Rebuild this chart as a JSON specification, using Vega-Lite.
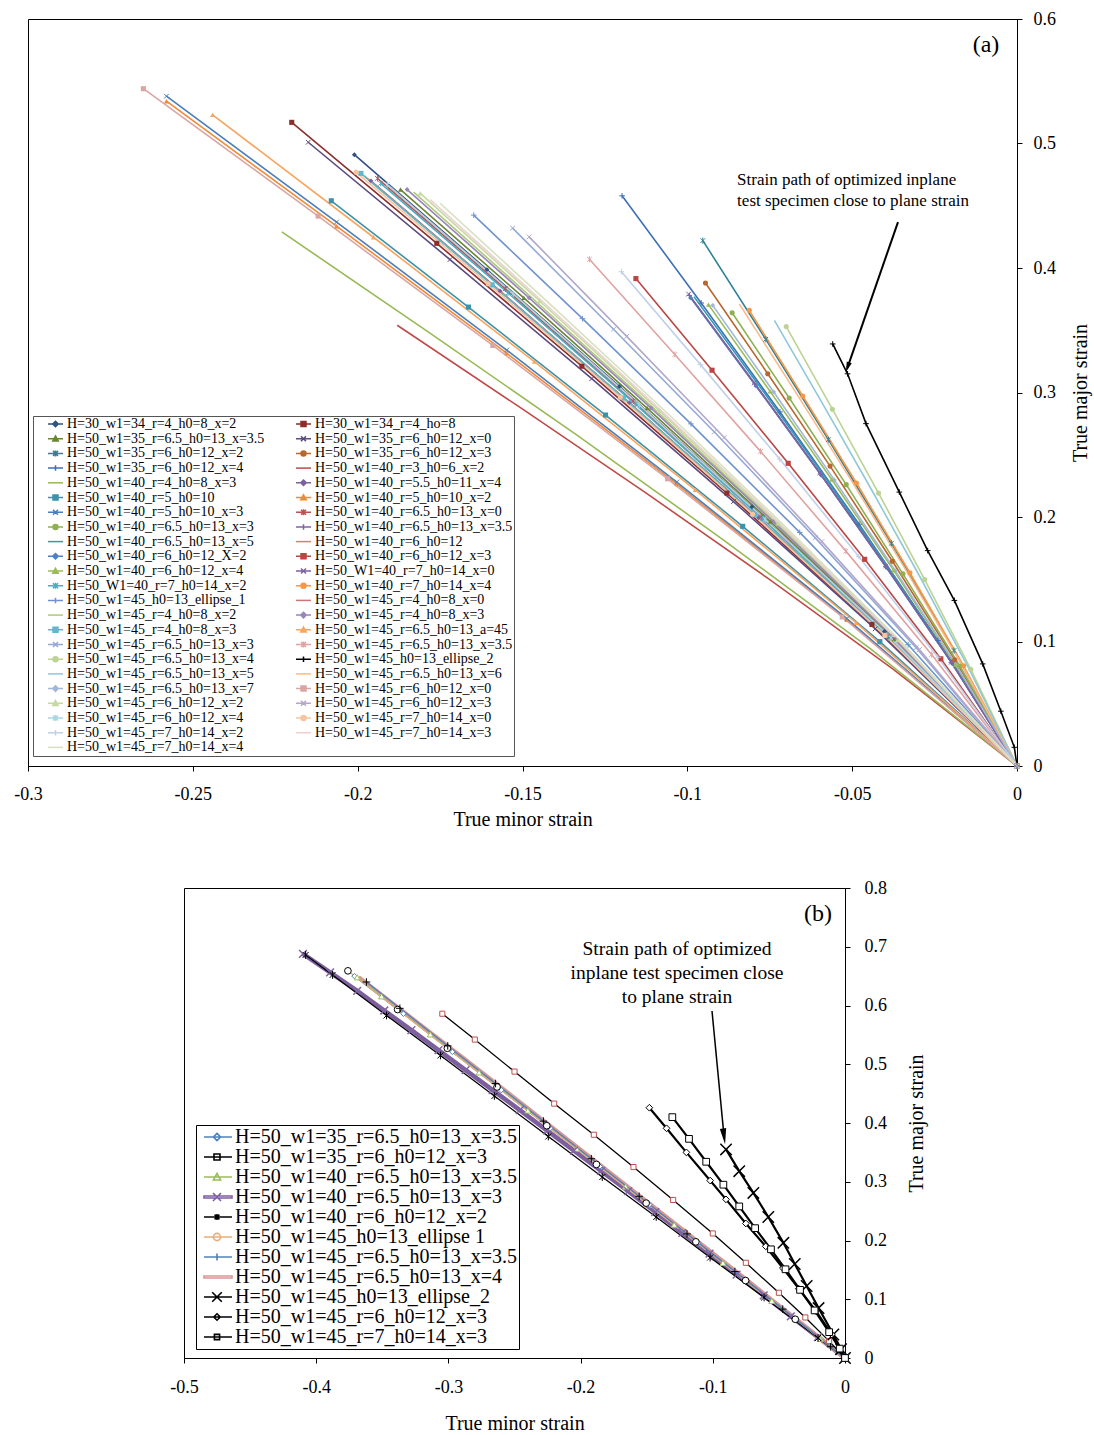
{
"$schema": "https://vega.github.io/schema/vega-lite/v6.json",
"padding": {"left": 13, "top": 9, "right": 2, "bottom": 0},
"spacing": 48,
"config": {
 "font": "Liberation Serif",
 "view": {"stroke": "#000", "strokeWidth": 1},
 "axis": {"grid": false, "domainColor": "#000", "tickColor": "#000", "labelColor": "#000", "titleColor": "#000", "labelFont": "Liberation Serif", "titleFont": "Liberation Serif", "titleFontWeight": "normal", "labelFontSize": 18, "titleFontSize": 20, "tickSize": 5, "labelFlush": false, "labelOverlap": false},
 "legend": {"labelFont": "Liberation Serif", "labelColor": "#000", "symbolLimit": 60},
 "text": {"font": "Liberation Serif", "color": "#000"}
},
"resolve": {"scale": {"x": "independent", "y": "independent", "color": "independent"}, "legend": {"color": "independent"}},
"datasets": {
"a": [
{"s":"H=30_w1=34_r=4_h0=8_x=2","x":-0.201,"y":0.491},{"s":"H=30_w1=34_r=4_h0=8_x=2","x":-0.1608,"y":0.3987},{"s":"H=30_w1=34_r=4_h0=8_x=2","x":-0.1206,"y":0.3049},{"s":"H=30_w1=34_r=4_h0=8_x=2","x":-0.0804,"y":0.2082},{"s":"H=30_w1=34_r=4_h0=8_x=2","x":-0.0402,"y":0.108},{"s":"H=30_w1=34_r=4_h0=8_x=2","x":0,"y":0},
{"s":"H=30_w1=34_r=4_ho=8","x":-0.22,"y":0.517},{"s":"H=30_w1=34_r=4_ho=8","x":-0.176,"y":0.4198},{"s":"H=30_w1=34_r=4_ho=8","x":-0.132,"y":0.3211},{"s":"H=30_w1=34_r=4_ho=8","x":-0.088,"y":0.2192},{"s":"H=30_w1=34_r=4_ho=8","x":-0.044,"y":0.1137},{"s":"H=30_w1=34_r=4_ho=8","x":0,"y":0},
{"s":"H=50_w1=35_r=6.5_h0=13_x=3.5","x":-0.187,"y":0.463},{"s":"H=50_w1=35_r=6.5_h0=13_x=3.5","x":-0.1496,"y":0.376},{"s":"H=50_w1=35_r=6.5_h0=13_x=3.5","x":-0.1122,"y":0.2875},{"s":"H=50_w1=35_r=6.5_h0=13_x=3.5","x":-0.0748,"y":0.1963},{"s":"H=50_w1=35_r=6.5_h0=13_x=3.5","x":-0.0374,"y":0.1019},{"s":"H=50_w1=35_r=6.5_h0=13_x=3.5","x":0,"y":0},
{"s":"H=50_w1=35_r=6_h0=12_x=0","x":-0.215,"y":0.501},{"s":"H=50_w1=35_r=6_h0=12_x=0","x":-0.172,"y":0.4068},{"s":"H=50_w1=35_r=6_h0=12_x=0","x":-0.129,"y":0.3111},{"s":"H=50_w1=35_r=6_h0=12_x=0","x":-0.086,"y":0.2124},{"s":"H=50_w1=35_r=6_h0=12_x=0","x":-0.043,"y":0.1102},{"s":"H=50_w1=35_r=6_h0=12_x=0","x":0,"y":0},
{"s":"H=50_w1=35_r=6_h0=12_x=2","x":-0.0953,"y":0.422},{"s":"H=50_w1=35_r=6_h0=12_x=2","x":-0.0762,"y":0.3427},{"s":"H=50_w1=35_r=6_h0=12_x=2","x":-0.0572,"y":0.2621},{"s":"H=50_w1=35_r=6_h0=12_x=2","x":-0.0381,"y":0.1789},{"s":"H=50_w1=35_r=6_h0=12_x=2","x":-0.0191,"y":0.0928},{"s":"H=50_w1=35_r=6_h0=12_x=2","x":0,"y":0},
{"s":"H=50_w1=35_r=6_h0=12_x=3","x":-0.0945,"y":0.388},{"s":"H=50_w1=35_r=6_h0=12_x=3","x":-0.0756,"y":0.3151},{"s":"H=50_w1=35_r=6_h0=12_x=3","x":-0.0567,"y":0.2409},{"s":"H=50_w1=35_r=6_h0=12_x=3","x":-0.0378,"y":0.1645},{"s":"H=50_w1=35_r=6_h0=12_x=3","x":-0.0189,"y":0.0854},{"s":"H=50_w1=35_r=6_h0=12_x=3","x":0,"y":0},
{"s":"H=50_w1=35_r=6_h0=12_x=4","x":-0.1198,"y":0.458},{"s":"H=50_w1=35_r=6_h0=12_x=4","x":-0.0958,"y":0.3719},{"s":"H=50_w1=35_r=6_h0=12_x=4","x":-0.0719,"y":0.2844},{"s":"H=50_w1=35_r=6_h0=12_x=4","x":-0.0479,"y":0.1942},{"s":"H=50_w1=35_r=6_h0=12_x=4","x":-0.024,"y":0.1008},{"s":"H=50_w1=35_r=6_h0=12_x=4","x":0,"y":0},
{"s":"H=50_w1=40_r=3_h0=6_x=2","x":-0.188,"y":0.354},{"s":"H=50_w1=40_r=3_h0=6_x=2","x":-0.1504,"y":0.2874},{"s":"H=50_w1=40_r=3_h0=6_x=2","x":-0.1128,"y":0.2198},{"s":"H=50_w1=40_r=3_h0=6_x=2","x":-0.0752,"y":0.1501},{"s":"H=50_w1=40_r=3_h0=6_x=2","x":-0.0376,"y":0.0779},{"s":"H=50_w1=40_r=3_h0=6_x=2","x":0,"y":0},
{"s":"H=50_w1=40_r=4_h0=8_x=3","x":-0.223,"y":0.429},{"s":"H=50_w1=40_r=4_h0=8_x=3","x":-0.1784,"y":0.3483},{"s":"H=50_w1=40_r=4_h0=8_x=3","x":-0.1338,"y":0.2664},{"s":"H=50_w1=40_r=4_h0=8_x=3","x":-0.0892,"y":0.1819},{"s":"H=50_w1=40_r=4_h0=8_x=3","x":-0.0446,"y":0.0944},{"s":"H=50_w1=40_r=4_h0=8_x=3","x":0,"y":0},
{"s":"H=50_w1=40_r=5.5_h0=11_x=4","x":-0.196,"y":0.47},{"s":"H=50_w1=40_r=5.5_h0=11_x=4","x":-0.1568,"y":0.3816},{"s":"H=50_w1=40_r=5.5_h0=11_x=4","x":-0.1176,"y":0.2919},{"s":"H=50_w1=40_r=5.5_h0=11_x=4","x":-0.0784,"y":0.1993},{"s":"H=50_w1=40_r=5.5_h0=11_x=4","x":-0.0392,"y":0.1034},{"s":"H=50_w1=40_r=5.5_h0=11_x=4","x":0,"y":0},
{"s":"H=50_w1=40_r=5_h0=10","x":-0.208,"y":0.454},{"s":"H=50_w1=40_r=5_h0=10","x":-0.1664,"y":0.3686},{"s":"H=50_w1=40_r=5_h0=10","x":-0.1248,"y":0.2819},{"s":"H=50_w1=40_r=5_h0=10","x":-0.0832,"y":0.1925},{"s":"H=50_w1=40_r=5_h0=10","x":-0.0416,"y":0.0999},{"s":"H=50_w1=40_r=5_h0=10","x":0,"y":0},
{"s":"H=50_w1=40_r=5_h0=10_x=2","x":-0.258,"y":0.534},{"s":"H=50_w1=40_r=5_h0=10_x=2","x":-0.2064,"y":0.4336},{"s":"H=50_w1=40_r=5_h0=10_x=2","x":-0.1548,"y":0.3316},{"s":"H=50_w1=40_r=5_h0=10_x=2","x":-0.1032,"y":0.2264},{"s":"H=50_w1=40_r=5_h0=10_x=2","x":-0.0516,"y":0.1175},{"s":"H=50_w1=40_r=5_h0=10_x=2","x":0,"y":0},
{"s":"H=50_w1=40_r=5_h0=10_x=3","x":-0.258,"y":0.538},{"s":"H=50_w1=40_r=5_h0=10_x=3","x":-0.2064,"y":0.4369},{"s":"H=50_w1=40_r=5_h0=10_x=3","x":-0.1548,"y":0.3341},{"s":"H=50_w1=40_r=5_h0=10_x=3","x":-0.1032,"y":0.2281},{"s":"H=50_w1=40_r=5_h0=10_x=3","x":-0.0516,"y":0.1184},{"s":"H=50_w1=40_r=5_h0=10_x=3","x":0,"y":0},
{"s":"H=50_w1=40_r=6.5_h0=13_x=0","x":-0.194,"y":0.472},{"s":"H=50_w1=40_r=6.5_h0=13_x=0","x":-0.1552,"y":0.3833},{"s":"H=50_w1=40_r=6.5_h0=13_x=0","x":-0.1164,"y":0.2931},{"s":"H=50_w1=40_r=6.5_h0=13_x=0","x":-0.0776,"y":0.2001},{"s":"H=50_w1=40_r=6.5_h0=13_x=0","x":-0.0388,"y":0.1038},{"s":"H=50_w1=40_r=6.5_h0=13_x=0","x":0,"y":0},
{"s":"H=50_w1=40_r=6.5_h0=13_x=3","x":-0.0864,"y":0.364},{"s":"H=50_w1=40_r=6.5_h0=13_x=3","x":-0.0691,"y":0.2956},{"s":"H=50_w1=40_r=6.5_h0=13_x=3","x":-0.0518,"y":0.226},{"s":"H=50_w1=40_r=6.5_h0=13_x=3","x":-0.0346,"y":0.1543},{"s":"H=50_w1=40_r=6.5_h0=13_x=3","x":-0.0173,"y":0.0801},{"s":"H=50_w1=40_r=6.5_h0=13_x=3","x":0,"y":0},
{"s":"H=50_w1=40_r=6.5_h0=13_x=3.5","x":-0.0994,"y":0.378},{"s":"H=50_w1=40_r=6.5_h0=13_x=3.5","x":-0.0795,"y":0.3069},{"s":"H=50_w1=40_r=6.5_h0=13_x=3.5","x":-0.0596,"y":0.2347},{"s":"H=50_w1=40_r=6.5_h0=13_x=3.5","x":-0.0398,"y":0.1603},{"s":"H=50_w1=40_r=6.5_h0=13_x=3.5","x":-0.0199,"y":0.0832},{"s":"H=50_w1=40_r=6.5_h0=13_x=3.5","x":0,"y":0},
{"s":"H=50_w1=40_r=6.5_h0=13_x=5","x":-0.098,"y":0.377},{"s":"H=50_w1=40_r=6.5_h0=13_x=5","x":-0.0784,"y":0.3061},{"s":"H=50_w1=40_r=6.5_h0=13_x=5","x":-0.0588,"y":0.2341},{"s":"H=50_w1=40_r=6.5_h0=13_x=5","x":-0.0392,"y":0.1598},{"s":"H=50_w1=40_r=6.5_h0=13_x=5","x":-0.0196,"y":0.0829},{"s":"H=50_w1=40_r=6.5_h0=13_x=5","x":0,"y":0},
{"s":"H=50_w1=40_r=6_h0=12","x":-0.198,"y":0.474},{"s":"H=50_w1=40_r=6_h0=12","x":-0.1584,"y":0.3849},{"s":"H=50_w1=40_r=6_h0=12","x":-0.1188,"y":0.2944},{"s":"H=50_w1=40_r=6_h0=12","x":-0.0792,"y":0.201},{"s":"H=50_w1=40_r=6_h0=12","x":-0.0396,"y":0.1043},{"s":"H=50_w1=40_r=6_h0=12","x":0,"y":0},
{"s":"H=50_w1=40_r=6_h0=12_X=2","x":-0.099,"y":0.376},{"s":"H=50_w1=40_r=6_h0=12_X=2","x":-0.0792,"y":0.3053},{"s":"H=50_w1=40_r=6_h0=12_X=2","x":-0.0594,"y":0.2335},{"s":"H=50_w1=40_r=6_h0=12_X=2","x":-0.0396,"y":0.1594},{"s":"H=50_w1=40_r=6_h0=12_X=2","x":-0.0198,"y":0.0827},{"s":"H=50_w1=40_r=6_h0=12_X=2","x":0,"y":0},
{"s":"H=50_w1=40_r=6_h0=12_x=3","x":-0.1156,"y":0.3915},{"s":"H=50_w1=40_r=6_h0=12_x=3","x":-0.0925,"y":0.3179},{"s":"H=50_w1=40_r=6_h0=12_x=3","x":-0.0694,"y":0.2431},{"s":"H=50_w1=40_r=6_h0=12_x=3","x":-0.0462,"y":0.166},{"s":"H=50_w1=40_r=6_h0=12_x=3","x":-0.0231,"y":0.0861},{"s":"H=50_w1=40_r=6_h0=12_x=3","x":0,"y":0},
{"s":"H=50_w1=40_r=6_h0=12_x=4","x":-0.0936,"y":0.3706},{"s":"H=50_w1=40_r=6_h0=12_x=4","x":-0.0749,"y":0.3009},{"s":"H=50_w1=40_r=6_h0=12_x=4","x":-0.0562,"y":0.2301},{"s":"H=50_w1=40_r=6_h0=12_x=4","x":-0.0374,"y":0.1571},{"s":"H=50_w1=40_r=6_h0=12_x=4","x":-0.0187,"y":0.0815},{"s":"H=50_w1=40_r=6_h0=12_x=4","x":0,"y":0},
{"s":"H=50_W1=40_r=7_h0=14_x=0","x":-0.0996,"y":0.379},{"s":"H=50_W1=40_r=7_h0=14_x=0","x":-0.0797,"y":0.3077},{"s":"H=50_W1=40_r=7_h0=14_x=0","x":-0.0598,"y":0.2354},{"s":"H=50_W1=40_r=7_h0=14_x=0","x":-0.0398,"y":0.1607},{"s":"H=50_W1=40_r=7_h0=14_x=0","x":-0.0199,"y":0.0834},{"s":"H=50_W1=40_r=7_h0=14_x=0","x":0,"y":0},
{"s":"H=50_W1=40_r=7_h0=14_x=2","x":-0.193,"y":0.468},{"s":"H=50_W1=40_r=7_h0=14_x=2","x":-0.1544,"y":0.38},{"s":"H=50_W1=40_r=7_h0=14_x=2","x":-0.1158,"y":0.2906},{"s":"H=50_W1=40_r=7_h0=14_x=2","x":-0.0772,"y":0.1984},{"s":"H=50_W1=40_r=7_h0=14_x=2","x":-0.0386,"y":0.103},{"s":"H=50_W1=40_r=7_h0=14_x=2","x":0,"y":0},
{"s":"H=50_w1=40_r=7_h0=14_x=4","x":-0.0812,"y":0.366},{"s":"H=50_w1=40_r=7_h0=14_x=4","x":-0.065,"y":0.2972},{"s":"H=50_w1=40_r=7_h0=14_x=4","x":-0.0487,"y":0.2273},{"s":"H=50_w1=40_r=7_h0=14_x=4","x":-0.0325,"y":0.1552},{"s":"H=50_w1=40_r=7_h0=14_x=4","x":-0.0162,"y":0.0805},{"s":"H=50_w1=40_r=7_h0=14_x=4","x":0,"y":0},
{"s":"H=50_w1=45_h0=13_ellipse_1","x":-0.1648,"y":0.4425},{"s":"H=50_w1=45_h0=13_ellipse_1","x":-0.1318,"y":0.3593},{"s":"H=50_w1=45_h0=13_ellipse_1","x":-0.0989,"y":0.2748},{"s":"H=50_w1=45_h0=13_ellipse_1","x":-0.0659,"y":0.1876},{"s":"H=50_w1=45_h0=13_ellipse_1","x":-0.033,"y":0.0974},{"s":"H=50_w1=45_h0=13_ellipse_1","x":0,"y":0},
{"s":"H=50_w1=45_r=4_h0=8_x=0","x":-0.19,"y":0.465},{"s":"H=50_w1=45_r=4_h0=8_x=0","x":-0.152,"y":0.3776},{"s":"H=50_w1=45_r=4_h0=8_x=0","x":-0.114,"y":0.2888},{"s":"H=50_w1=45_r=4_h0=8_x=0","x":-0.076,"y":0.1972},{"s":"H=50_w1=45_r=4_h0=8_x=0","x":-0.038,"y":0.1023},{"s":"H=50_w1=45_r=4_h0=8_x=0","x":0,"y":0},
{"s":"H=50_w1=45_r=4_h0=8_x=2","x":-0.183,"y":0.461},{"s":"H=50_w1=45_r=4_h0=8_x=2","x":-0.1464,"y":0.3743},{"s":"H=50_w1=45_r=4_h0=8_x=2","x":-0.1098,"y":0.2863},{"s":"H=50_w1=45_r=4_h0=8_x=2","x":-0.0732,"y":0.1955},{"s":"H=50_w1=45_r=4_h0=8_x=2","x":-0.0366,"y":0.1014},{"s":"H=50_w1=45_r=4_h0=8_x=2","x":0,"y":0},
{"s":"H=50_w1=45_r=4_h0=8_x=3","x":-0.185,"y":0.463},{"s":"H=50_w1=45_r=4_h0=8_x=3","x":-0.148,"y":0.376},{"s":"H=50_w1=45_r=4_h0=8_x=3","x":-0.111,"y":0.2875},{"s":"H=50_w1=45_r=4_h0=8_x=3","x":-0.074,"y":0.1963},{"s":"H=50_w1=45_r=4_h0=8_x=3","x":-0.037,"y":0.1019},{"s":"H=50_w1=45_r=4_h0=8_x=3","x":0,"y":0},
{"s":"H=50_w1=45_r=4_h0=8_x=3 ","x":-0.199,"y":0.476},{"s":"H=50_w1=45_r=4_h0=8_x=3 ","x":-0.1592,"y":0.3865},{"s":"H=50_w1=45_r=4_h0=8_x=3 ","x":-0.1194,"y":0.2956},{"s":"H=50_w1=45_r=4_h0=8_x=3 ","x":-0.0796,"y":0.2018},{"s":"H=50_w1=45_r=4_h0=8_x=3 ","x":-0.0398,"y":0.1047},{"s":"H=50_w1=45_r=4_h0=8_x=3 ","x":0,"y":0},
{"s":"H=50_w1=45_r=6.5_h0=13_a=45","x":-0.244,"y":0.523},{"s":"H=50_w1=45_r=6.5_h0=13_a=45","x":-0.1952,"y":0.4247},{"s":"H=50_w1=45_r=6.5_h0=13_a=45","x":-0.1464,"y":0.3248},{"s":"H=50_w1=45_r=6.5_h0=13_a=45","x":-0.0976,"y":0.2218},{"s":"H=50_w1=45_r=6.5_h0=13_a=45","x":-0.0488,"y":0.1151},{"s":"H=50_w1=45_r=6.5_h0=13_a=45","x":0,"y":0},
{"s":"H=50_w1=45_r=6.5_h0=13_x=3","x":-0.153,"y":0.432},{"s":"H=50_w1=45_r=6.5_h0=13_x=3","x":-0.1224,"y":0.3508},{"s":"H=50_w1=45_r=6.5_h0=13_x=3","x":-0.0918,"y":0.2683},{"s":"H=50_w1=45_r=6.5_h0=13_x=3","x":-0.0612,"y":0.1832},{"s":"H=50_w1=45_r=6.5_h0=13_x=3","x":-0.0306,"y":0.095},{"s":"H=50_w1=45_r=6.5_h0=13_x=3","x":0,"y":0},
{"s":"H=50_w1=45_r=6.5_h0=13_x=3.5","x":-0.1297,"y":0.407},{"s":"H=50_w1=45_r=6.5_h0=13_x=3.5","x":-0.1038,"y":0.3305},{"s":"H=50_w1=45_r=6.5_h0=13_x=3.5","x":-0.0778,"y":0.2527},{"s":"H=50_w1=45_r=6.5_h0=13_x=3.5","x":-0.0519,"y":0.1726},{"s":"H=50_w1=45_r=6.5_h0=13_x=3.5","x":-0.0259,"y":0.0895},{"s":"H=50_w1=45_r=6.5_h0=13_x=3.5","x":0,"y":0},
{"s":"H=50_w1=45_r=6.5_h0=13_x=4","x":-0.07,"y":0.353},{"s":"H=50_w1=45_r=6.5_h0=13_x=4","x":-0.056,"y":0.2866},{"s":"H=50_w1=45_r=6.5_h0=13_x=4","x":-0.042,"y":0.2192},{"s":"H=50_w1=45_r=6.5_h0=13_x=4","x":-0.028,"y":0.1497},{"s":"H=50_w1=45_r=6.5_h0=13_x=4","x":-0.014,"y":0.0777},{"s":"H=50_w1=45_r=6.5_h0=13_x=4","x":0,"y":0},
{"s":"H=50_w1=45_h0=13_ellipse_2","x":-0.0559,"y":0.339},{"s":"H=50_w1=45_h0=13_ellipse_2","x":-0.0514,"y":0.315},{"s":"H=50_w1=45_h0=13_ellipse_2","x":-0.0458,"y":0.275},{"s":"H=50_w1=45_h0=13_ellipse_2","x":-0.0357,"y":0.22},{"s":"H=50_w1=45_h0=13_ellipse_2","x":-0.0271,"y":0.173},{"s":"H=50_w1=45_h0=13_ellipse_2","x":-0.019,"y":0.133},{"s":"H=50_w1=45_h0=13_ellipse_2","x":-0.0104,"y":0.082},{"s":"H=50_w1=45_h0=13_ellipse_2","x":-0.0049,"y":0.044},{"s":"H=50_w1=45_h0=13_ellipse_2","x":-0.0008,"y":0.015},{"s":"H=50_w1=45_h0=13_ellipse_2","x":0,"y":0},
{"s":"H=50_w1=45_r=6.5_h0=13_x=5","x":-0.0736,"y":0.358},{"s":"H=50_w1=45_r=6.5_h0=13_x=5","x":-0.0589,"y":0.2907},{"s":"H=50_w1=45_r=6.5_h0=13_x=5","x":-0.0442,"y":0.2223},{"s":"H=50_w1=45_r=6.5_h0=13_x=5","x":-0.0294,"y":0.1518},{"s":"H=50_w1=45_r=6.5_h0=13_x=5","x":-0.0147,"y":0.0788},{"s":"H=50_w1=45_r=6.5_h0=13_x=5","x":0,"y":0},
{"s":"H=50_w1=45_r=6.5_h0=13_x=6","x":-0.0842,"y":0.371},{"s":"H=50_w1=45_r=6.5_h0=13_x=6","x":-0.0674,"y":0.3013},{"s":"H=50_w1=45_r=6.5_h0=13_x=6","x":-0.0505,"y":0.2304},{"s":"H=50_w1=45_r=6.5_h0=13_x=6","x":-0.0337,"y":0.1573},{"s":"H=50_w1=45_r=6.5_h0=13_x=6","x":-0.0168,"y":0.0816},{"s":"H=50_w1=45_r=6.5_h0=13_x=6","x":0,"y":0},
{"s":"H=50_w1=45_r=6.5_h0=13_x=7","x":-0.0923,"y":0.37},{"s":"H=50_w1=45_r=6.5_h0=13_x=7","x":-0.0738,"y":0.3004},{"s":"H=50_w1=45_r=6.5_h0=13_x=7","x":-0.0554,"y":0.2298},{"s":"H=50_w1=45_r=6.5_h0=13_x=7","x":-0.0369,"y":0.1569},{"s":"H=50_w1=45_r=6.5_h0=13_x=7","x":-0.0185,"y":0.0814},{"s":"H=50_w1=45_r=6.5_h0=13_x=7","x":0,"y":0},
{"s":"H=50_w1=45_r=6_h0=12_x=0","x":-0.265,"y":0.544},{"s":"H=50_w1=45_r=6_h0=12_x=0","x":-0.212,"y":0.4417},{"s":"H=50_w1=45_r=6_h0=12_x=0","x":-0.159,"y":0.3378},{"s":"H=50_w1=45_r=6_h0=12_x=0","x":-0.106,"y":0.2307},{"s":"H=50_w1=45_r=6_h0=12_x=0","x":-0.053,"y":0.1197},{"s":"H=50_w1=45_r=6_h0=12_x=0","x":0,"y":0},
{"s":"H=50_w1=45_r=6_h0=12_x=2","x":-0.181,"y":0.46},{"s":"H=50_w1=45_r=6_h0=12_x=2","x":-0.1448,"y":0.3735},{"s":"H=50_w1=45_r=6_h0=12_x=2","x":-0.1086,"y":0.2857},{"s":"H=50_w1=45_r=6_h0=12_x=2","x":-0.0724,"y":0.195},{"s":"H=50_w1=45_r=6_h0=12_x=2","x":-0.0362,"y":0.1012},{"s":"H=50_w1=45_r=6_h0=12_x=2","x":0,"y":0},
{"s":"H=50_w1=45_r=6_h0=12_x=3","x":-0.148,"y":0.425},{"s":"H=50_w1=45_r=6_h0=12_x=3","x":-0.1184,"y":0.3451},{"s":"H=50_w1=45_r=6_h0=12_x=3","x":-0.0888,"y":0.2639},{"s":"H=50_w1=45_r=6_h0=12_x=3","x":-0.0592,"y":0.1802},{"s":"H=50_w1=45_r=6_h0=12_x=3","x":-0.0296,"y":0.0935},{"s":"H=50_w1=45_r=6_h0=12_x=3","x":0,"y":0},
{"s":"H=50_w1=45_r=6_h0=12_x=4","x":-0.191,"y":0.467},{"s":"H=50_w1=45_r=6_h0=12_x=4","x":-0.1528,"y":0.3792},{"s":"H=50_w1=45_r=6_h0=12_x=4","x":-0.1146,"y":0.29},{"s":"H=50_w1=45_r=6_h0=12_x=4","x":-0.0764,"y":0.198},{"s":"H=50_w1=45_r=6_h0=12_x=4","x":-0.0382,"y":0.1027},{"s":"H=50_w1=45_r=6_h0=12_x=4","x":0,"y":0},
{"s":"H=50_w1=45_r=7_h0=14_x=0","x":-0.2005,"y":0.477},{"s":"H=50_w1=45_r=7_h0=14_x=0","x":-0.1604,"y":0.3873},{"s":"H=50_w1=45_r=7_h0=14_x=0","x":-0.1203,"y":0.2962},{"s":"H=50_w1=45_r=7_h0=14_x=0","x":-0.0802,"y":0.2022},{"s":"H=50_w1=45_r=7_h0=14_x=0","x":-0.0401,"y":0.1049},{"s":"H=50_w1=45_r=7_h0=14_x=0","x":0,"y":0},
{"s":"H=50_w1=45_r=7_h0=14_x=2","x":-0.12,"y":0.397},{"s":"H=50_w1=45_r=7_h0=14_x=2","x":-0.096,"y":0.3224},{"s":"H=50_w1=45_r=7_h0=14_x=2","x":-0.072,"y":0.2465},{"s":"H=50_w1=45_r=7_h0=14_x=2","x":-0.048,"y":0.1683},{"s":"H=50_w1=45_r=7_h0=14_x=2","x":-0.024,"y":0.0873},{"s":"H=50_w1=45_r=7_h0=14_x=2","x":0,"y":0},
{"s":"H=50_w1=45_r=7_h0=14_x=3","x":-0.178,"y":0.455},{"s":"H=50_w1=45_r=7_h0=14_x=3","x":-0.1424,"y":0.3695},{"s":"H=50_w1=45_r=7_h0=14_x=3","x":-0.1068,"y":0.2826},{"s":"H=50_w1=45_r=7_h0=14_x=3","x":-0.0712,"y":0.1929},{"s":"H=50_w1=45_r=7_h0=14_x=3","x":-0.0356,"y":0.1001},{"s":"H=50_w1=45_r=7_h0=14_x=3","x":0,"y":0},
{"s":"H=50_w1=45_r=7_h0=14_x=4","x":-0.175,"y":0.452},{"s":"H=50_w1=45_r=7_h0=14_x=4","x":-0.14,"y":0.367},{"s":"H=50_w1=45_r=7_h0=14_x=4","x":-0.105,"y":0.2807},{"s":"H=50_w1=45_r=7_h0=14_x=4","x":-0.07,"y":0.1916},{"s":"H=50_w1=45_r=7_h0=14_x=4","x":-0.035,"y":0.0994},{"s":"H=50_w1=45_r=7_h0=14_x=4","x":0,"y":0}
],
"b": [
{"s":"H=50_w1=35_r=6.5_h0=13_x=3.5","x":-0.371,"y":0.65},{"s":"H=50_w1=35_r=6.5_h0=13_x=3.5","x":-0.334,"y":0.586},{"s":"H=50_w1=35_r=6.5_h0=13_x=3.5","x":-0.297,"y":0.521},{"s":"H=50_w1=35_r=6.5_h0=13_x=3.5","x":-0.26,"y":0.456},{"s":"H=50_w1=35_r=6.5_h0=13_x=3.5","x":-0.223,"y":0.391},{"s":"H=50_w1=35_r=6.5_h0=13_x=3.5","x":-0.1855,"y":0.326},{"s":"H=50_w1=35_r=6.5_h0=13_x=3.5","x":-0.148,"y":0.261},{"s":"H=50_w1=35_r=6.5_h0=13_x=3.5","x":-0.111,"y":0.196},{"s":"H=50_w1=35_r=6.5_h0=13_x=3.5","x":-0.074,"y":0.131},{"s":"H=50_w1=35_r=6.5_h0=13_x=3.5","x":-0.037,"y":0.066},{"s":"H=50_w1=35_r=6.5_h0=13_x=3.5","x":0,"y":0},
{"s":"H=50_w1=35_r=6_h0=12_x=3","x":-0.3046,"y":0.586},{"s":"H=50_w1=35_r=6_h0=12_x=3","x":-0.28,"y":0.542},{"s":"H=50_w1=35_r=6_h0=12_x=3","x":-0.25,"y":0.4875},{"s":"H=50_w1=35_r=6_h0=12_x=3","x":-0.22,"y":0.433},{"s":"H=50_w1=35_r=6_h0=12_x=3","x":-0.19,"y":0.38},{"s":"H=50_w1=35_r=6_h0=12_x=3","x":-0.16,"y":0.325},{"s":"H=50_w1=35_r=6_h0=12_x=3","x":-0.13,"y":0.269},{"s":"H=50_w1=35_r=6_h0=12_x=3","x":-0.1,"y":0.212},{"s":"H=50_w1=35_r=6_h0=12_x=3","x":-0.075,"y":0.162},{"s":"H=50_w1=35_r=6_h0=12_x=3","x":-0.05,"y":0.111},{"s":"H=50_w1=35_r=6_h0=12_x=3","x":-0.03,"y":0.069},{"s":"H=50_w1=35_r=6_h0=12_x=3","x":-0.012,"y":0.0288},{"s":"H=50_w1=35_r=6_h0=12_x=3","x":0,"y":0},
{"s":"H=50_w1=40_r=6.5_h0=13_x=3.5","x":-0.369,"y":0.648},{"s":"H=50_w1=40_r=6.5_h0=13_x=3.5","x":-0.3506,"y":0.6156},{"s":"H=50_w1=40_r=6.5_h0=13_x=3.5","x":-0.3137,"y":0.5508},{"s":"H=50_w1=40_r=6.5_h0=13_x=3.5","x":-0.2768,"y":0.486},{"s":"H=50_w1=40_r=6.5_h0=13_x=3.5","x":-0.2399,"y":0.4212},{"s":"H=50_w1=40_r=6.5_h0=13_x=3.5","x":-0.203,"y":0.3564},{"s":"H=50_w1=40_r=6.5_h0=13_x=3.5","x":-0.166,"y":0.2916},{"s":"H=50_w1=40_r=6.5_h0=13_x=3.5","x":-0.1292,"y":0.2268},{"s":"H=50_w1=40_r=6.5_h0=13_x=3.5","x":-0.0923,"y":0.162},{"s":"H=50_w1=40_r=6.5_h0=13_x=3.5","x":-0.0554,"y":0.0972},{"s":"H=50_w1=40_r=6.5_h0=13_x=3.5","x":-0.0185,"y":0.0324},{"s":"H=50_w1=40_r=6.5_h0=13_x=3.5","x":0,"y":0},
{"s":"H=50_w1=40_r=6.5_h0=13_x=3","x":-0.41,"y":0.688},{"s":"H=50_w1=40_r=6.5_h0=13_x=3","x":-0.3895,"y":0.6565},{"s":"H=50_w1=40_r=6.5_h0=13_x=3","x":-0.369,"y":0.625},{"s":"H=50_w1=40_r=6.5_h0=13_x=3","x":-0.3485,"y":0.5915},{"s":"H=50_w1=40_r=6.5_h0=13_x=3","x":-0.328,"y":0.558},{"s":"H=50_w1=40_r=6.5_h0=13_x=3","x":-0.3075,"y":0.524},{"s":"H=50_w1=40_r=6.5_h0=13_x=3","x":-0.287,"y":0.49},{"s":"H=50_w1=40_r=6.5_h0=13_x=3","x":-0.2665,"y":0.456},{"s":"H=50_w1=40_r=6.5_h0=13_x=3","x":-0.246,"y":0.422},{"s":"H=50_w1=40_r=6.5_h0=13_x=3","x":-0.2255,"y":0.3875},{"s":"H=50_w1=40_r=6.5_h0=13_x=3","x":-0.205,"y":0.353},{"s":"H=50_w1=40_r=6.5_h0=13_x=3","x":-0.1845,"y":0.3185},{"s":"H=50_w1=40_r=6.5_h0=13_x=3","x":-0.164,"y":0.284},{"s":"H=50_w1=40_r=6.5_h0=13_x=3","x":-0.1435,"y":0.2485},{"s":"H=50_w1=40_r=6.5_h0=13_x=3","x":-0.123,"y":0.213},{"s":"H=50_w1=40_r=6.5_h0=13_x=3","x":-0.1025,"y":0.1775},{"s":"H=50_w1=40_r=6.5_h0=13_x=3","x":-0.082,"y":0.142},{"s":"H=50_w1=40_r=6.5_h0=13_x=3","x":-0.0615,"y":0.1065},{"s":"H=50_w1=40_r=6.5_h0=13_x=3","x":-0.041,"y":0.071},{"s":"H=50_w1=40_r=6.5_h0=13_x=3","x":-0.0205,"y":0.0355},{"s":"H=50_w1=40_r=6.5_h0=13_x=3","x":0,"y":0},
{"s":"H=50_w1=40_r=6_h0=12_x=2","x":-0.408,"y":0.686},{"s":"H=50_w1=40_r=6_h0=12_x=2","x":-0.3876,"y":0.652},{"s":"H=50_w1=40_r=6_h0=12_x=2","x":-0.3468,"y":0.583},{"s":"H=50_w1=40_r=6_h0=12_x=2","x":-0.306,"y":0.515},{"s":"H=50_w1=40_r=6_h0=12_x=2","x":-0.2652,"y":0.446},{"s":"H=50_w1=40_r=6_h0=12_x=2","x":-0.2244,"y":0.377},{"s":"H=50_w1=40_r=6_h0=12_x=2","x":-0.1836,"y":0.308},{"s":"H=50_w1=40_r=6_h0=12_x=2","x":-0.1428,"y":0.24},{"s":"H=50_w1=40_r=6_h0=12_x=2","x":-0.102,"y":0.171},{"s":"H=50_w1=40_r=6_h0=12_x=2","x":-0.0612,"y":0.103},{"s":"H=50_w1=40_r=6_h0=12_x=2","x":-0.0204,"y":0.034},{"s":"H=50_w1=40_r=6_h0=12_x=2","x":0,"y":0},
{"s":"H=50_w1=45_h0=13_ellipse 1","x":-0.376,"y":0.659},{"s":"H=50_w1=45_h0=13_ellipse 1","x":-0.3384,"y":0.5931},{"s":"H=50_w1=45_h0=13_ellipse 1","x":-0.3008,"y":0.5272},{"s":"H=50_w1=45_h0=13_ellipse 1","x":-0.2632,"y":0.4613},{"s":"H=50_w1=45_h0=13_ellipse 1","x":-0.2256,"y":0.3954},{"s":"H=50_w1=45_h0=13_ellipse 1","x":-0.188,"y":0.3295},{"s":"H=50_w1=45_h0=13_ellipse 1","x":-0.1504,"y":0.2636},{"s":"H=50_w1=45_h0=13_ellipse 1","x":-0.1128,"y":0.1977},{"s":"H=50_w1=45_h0=13_ellipse 1","x":-0.0752,"y":0.1318},{"s":"H=50_w1=45_h0=13_ellipse 1","x":-0.0376,"y":0.0659},{"s":"H=50_w1=45_h0=13_ellipse 1","x":0,"y":0},
{"s":"H=50_w1=45_r=6.5_h0=13_x=3.5","x":-0.362,"y":0.64},{"s":"H=50_w1=45_r=6.5_h0=13_x=3.5","x":-0.3367,"y":0.5952},{"s":"H=50_w1=45_r=6.5_h0=13_x=3.5","x":-0.3005,"y":0.5312},{"s":"H=50_w1=45_r=6.5_h0=13_x=3.5","x":-0.2643,"y":0.4672},{"s":"H=50_w1=45_r=6.5_h0=13_x=3.5","x":-0.2281,"y":0.4032},{"s":"H=50_w1=45_r=6.5_h0=13_x=3.5","x":-0.1919,"y":0.3392},{"s":"H=50_w1=45_r=6.5_h0=13_x=3.5","x":-0.1557,"y":0.2752},{"s":"H=50_w1=45_r=6.5_h0=13_x=3.5","x":-0.1195,"y":0.2112},{"s":"H=50_w1=45_r=6.5_h0=13_x=3.5","x":-0.0833,"y":0.1472},{"s":"H=50_w1=45_r=6.5_h0=13_x=3.5","x":-0.0471,"y":0.0832},{"s":"H=50_w1=45_r=6.5_h0=13_x=3.5","x":-0.0109,"y":0.0192},{"s":"H=50_w1=45_r=6.5_h0=13_x=3.5","x":0,"y":0},
{"s":"H=50_w1=45_r=6.5_h0=13_x=4","x":-0.368,"y":0.648},{"s":"H=50_w1=45_r=6.5_h0=13_x=4","x":-0.276,"y":0.488},{"s":"H=50_w1=45_r=6.5_h0=13_x=4","x":-0.184,"y":0.326},{"s":"H=50_w1=45_r=6.5_h0=13_x=4","x":-0.092,"y":0.164},{"s":"H=50_w1=45_r=6.5_h0=13_x=4","x":0,"y":0},
{"s":"H=50_w1=45_h0=13_ellipse_2","x":-0.09,"y":0.355},{"s":"H=50_w1=45_h0=13_ellipse_2","x":-0.08,"y":0.318},{"s":"H=50_w1=45_h0=13_ellipse_2","x":-0.0693,"y":0.281},{"s":"H=50_w1=45_h0=13_ellipse_2","x":-0.058,"y":0.24},{"s":"H=50_w1=45_h0=13_ellipse_2","x":-0.0466,"y":0.196},{"s":"H=50_w1=45_h0=13_ellipse_2","x":-0.038,"y":0.16},{"s":"H=50_w1=45_h0=13_ellipse_2","x":-0.029,"y":0.1226},{"s":"H=50_w1=45_h0=13_ellipse_2","x":-0.02,"y":0.085},{"s":"H=50_w1=45_h0=13_ellipse_2","x":-0.0088,"y":0.04},{"s":"H=50_w1=45_h0=13_ellipse_2","x":-0.003,"y":0.015},{"s":"H=50_w1=45_h0=13_ellipse_2","x":0,"y":0},
{"s":"H=50_w1=45_r=6_h0=12_x=3","x":-0.148,"y":0.426},{"s":"H=50_w1=45_r=6_h0=12_x=3","x":-0.135,"y":0.391},{"s":"H=50_w1=45_r=6_h0=12_x=3","x":-0.12,"y":0.35},{"s":"H=50_w1=45_r=6_h0=12_x=3","x":-0.102,"y":0.302},{"s":"H=50_w1=45_r=6_h0=12_x=3","x":-0.09,"y":0.27},{"s":"H=50_w1=45_r=6_h0=12_x=3","x":-0.075,"y":0.229},{"s":"H=50_w1=45_r=6_h0=12_x=3","x":-0.06,"y":0.19},{"s":"H=50_w1=45_r=6_h0=12_x=3","x":-0.047,"y":0.153},{"s":"H=50_w1=45_r=6_h0=12_x=3","x":-0.035,"y":0.118},{"s":"H=50_w1=45_r=6_h0=12_x=3","x":-0.022,"y":0.08},{"s":"H=50_w1=45_r=6_h0=12_x=3","x":-0.01,"y":0.04},{"s":"H=50_w1=45_r=6_h0=12_x=3","x":0,"y":0},
{"s":"H=50_w1=45_r=7_h0=14_x=3","x":-0.1306,"y":0.41},{"s":"H=50_w1=45_r=7_h0=14_x=3","x":-0.118,"y":0.373},{"s":"H=50_w1=45_r=7_h0=14_x=3","x":-0.105,"y":0.334},{"s":"H=50_w1=45_r=7_h0=14_x=3","x":-0.092,"y":0.295},{"s":"H=50_w1=45_r=7_h0=14_x=3","x":-0.08,"y":0.258},{"s":"H=50_w1=45_r=7_h0=14_x=3","x":-0.068,"y":0.221},{"s":"H=50_w1=45_r=7_h0=14_x=3","x":-0.056,"y":0.185},{"s":"H=50_w1=45_r=7_h0=14_x=3","x":-0.045,"y":0.151},{"s":"H=50_w1=45_r=7_h0=14_x=3","x":-0.034,"y":0.116},{"s":"H=50_w1=45_r=7_h0=14_x=3","x":-0.023,"y":0.081},{"s":"H=50_w1=45_r=7_h0=14_x=3","x":-0.012,"y":0.044},{"s":"H=50_w1=45_r=7_h0=14_x=3","x":-0.004,"y":0.016},{"s":"H=50_w1=45_r=7_h0=14_x=3","x":0,"y":0}
]
},
"vconcat": [
{
 "width": 989, "height": 747,
 "layer": [
  {
   "data": {"name": "a"},
   "mark": {"type": "line", "strokeWidth": 1.6},
   "encoding": {
    "x": {"field": "x", "type": "quantitative", "scale": {"domain": [-0.3, 0], "nice": false, "zero": false}, "axis": {"values": [-0.3,-0.25,-0.2,-0.15,-0.1,-0.05,0], "labelExpr": "datum.value + ''", "title": "True minor strain", "labelPadding": 14, "titlePadding": 6}},
    "y": {"field": "y", "type": "quantitative", "scale": {"domain": [0, 0.6], "nice": false}, "axis": {"orient": "right", "values": [0,0.1,0.2,0.3,0.4,0.5,0.6], "labelExpr": "datum.value + ''", "title": "True major strain", "titleAngle": 270, "titleBaseline": "top", "labelPadding": 11, "titlePadding": 15}},
    "color": {"field": "s", "type": "nominal",
     "scale": {"domain": ["H=30_w1=34_r=4_h0=8_x=2","H=50_w1=35_r=6.5_h0=13_x=3.5","H=50_w1=35_r=6_h0=12_x=2","H=50_w1=35_r=6_h0=12_x=4","H=50_w1=40_r=4_h0=8_x=3","H=50_w1=40_r=5_h0=10","H=50_w1=40_r=5_h0=10_x=3","H=50_w1=40_r=6.5_h0=13_x=3","H=50_w1=40_r=6.5_h0=13_x=5","H=50_w1=40_r=6_h0=12_X=2","H=50_w1=40_r=6_h0=12_x=4","H=50_W1=40_r=7_h0=14_x=2","H=50_w1=45_h0=13_ellipse_1","H=50_w1=45_r=4_h0=8_x=2","H=50_w1=45_r=4_h0=8_x=3 ","H=50_w1=45_r=6.5_h0=13_x=3","H=50_w1=45_r=6.5_h0=13_x=4","H=50_w1=45_r=6.5_h0=13_x=5","H=50_w1=45_r=6.5_h0=13_x=7","H=50_w1=45_r=6_h0=12_x=2","H=50_w1=45_r=6_h0=12_x=4","H=50_w1=45_r=7_h0=14_x=2","H=50_w1=45_r=7_h0=14_x=4","H=30_w1=34_r=4_ho=8","H=50_w1=35_r=6_h0=12_x=0","H=50_w1=35_r=6_h0=12_x=3","H=50_w1=40_r=3_h0=6_x=2","H=50_w1=40_r=5.5_h0=11_x=4","H=50_w1=40_r=5_h0=10_x=2","H=50_w1=40_r=6.5_h0=13_x=0","H=50_w1=40_r=6.5_h0=13_x=3.5","H=50_w1=40_r=6_h0=12","H=50_w1=40_r=6_h0=12_x=3","H=50_W1=40_r=7_h0=14_x=0","H=50_w1=40_r=7_h0=14_x=4","H=50_w1=45_r=4_h0=8_x=0","H=50_w1=45_r=4_h0=8_x=3","H=50_w1=45_r=6.5_h0=13_a=45","H=50_w1=45_r=6.5_h0=13_x=3.5","H=50_w1=45_h0=13_ellipse_2","H=50_w1=45_r=6.5_h0=13_x=6","H=50_w1=45_r=6_h0=12_x=0","H=50_w1=45_r=6_h0=12_x=3","H=50_w1=45_r=7_h0=14_x=0","H=50_w1=45_r=7_h0=14_x=3"],
      "range": ["#2F5286","#6A8535","#2E8294","#3E6EB5","#98B954","#3A93AB","#4A7EBB","#8EB050","#2E9CB8","#4F81BD","#9BBB59","#4BACC6","#6F93CC","#AECA7A","#5EB8D1","#93A9D6","#BCD393","#8FC8D9","#A0B6DA","#C5D9A3","#A8D6E3","#C0D0E8","#D5E2BE","#8B2F2C","#5B4A7E","#B8672E","#BE4B48","#7D60A0","#F08A35","#C0504D","#8064A2","#E88430","#BB4542","#7E62A1","#F79646","#CF7573","#9A85B8","#F8A560","#E0A3A1","#000000","#F9B98A","#D9A6A4","#B4A7CA","#F7C4A0","#EDCFCE"]},
     "legend": {"title": null, "orient": "none", "legendX": 5, "legendY": 397, "columns": 2, "columnPadding": 16, "rowPadding": 0.7, "labelFontSize": 14, "labelLimit": 400, "labelOffset": 19, "symbolSize": 100, "symbolStrokeWidth": 1.5, "symbolType": "M-1,0M1.4,0L4.4,0", "padding": 1, "strokeColor": "#555", "fillColor": "#fff",
      "encode": {"symbols": {"update": {"shape": {"signal": "'M-1,0M1.4,0L4.4,0' + ['M2.9,-0.55L3.45,0L2.9,0.55L2.35,0Z','M2.4,-0.5L3.4,-0.5L3.4,0.5L2.4,0.5Z','M2.9,-0.55L3.45,0.45L2.35,0.45Z','M2.4,-0.5L3.4,0.5M2.4,0.5L3.4,-0.5','M2.4,-0.5L3.4,0.5M2.4,0.5L3.4,-0.5M2.9,-0.6L2.9,0.6','M2.4,0A0.5,0.5 0 1,0 3.4,0A0.5,0.5 0 1,0 2.4,0','M2.35,0L3.45,0M2.9,-0.55L2.9,0.55','',''][(datum.index < 23 ? 2 * datum.index : 2 * (datum.index - 23) + 1) % 9]"}, "fill": {"value": "transparent"}}}}}
    }
   }
  },
  {
   "data": {"name": "a"},
   "transform": [{"filter": "indexof(['H=30_w1=34_r=4_h0=8_x=2','H=50_w1=40_r=5.5_h0=11_x=4','H=50_w1=40_r=6_h0=12_X=2','H=50_w1=45_r=4_h0=8_x=3','H=50_w1=45_r=6.5_h0=13_x=7'], datum.s) >= 0"}],
   "mark": {"type": "point", "shape": "diamond", "filled": true, "size": 24, "opacity": 1},
   "encoding": {"x": {"field": "x", "type": "quantitative"}, "y": {"field": "y", "type": "quantitative"}, "color": {"field": "s", "type": "nominal", "legend": null}}
  },
  {
   "data": {"name": "a"},
   "transform": [{"filter": "indexof(['H=30_w1=34_r=4_ho=8','H=50_w1=40_r=5_h0=10','H=50_w1=40_r=6_h0=12_x=3','H=50_w1=45_r=4_h0=8_x=3 ','H=50_w1=45_r=6_h0=12_x=0'], datum.s) >= 0"}],
   "mark": {"type": "point", "shape": "square", "filled": true, "size": 26, "opacity": 1},
   "encoding": {"x": {"field": "x", "type": "quantitative"}, "y": {"field": "y", "type": "quantitative"}, "color": {"field": "s", "type": "nominal", "legend": null}}
  },
  {
   "data": {"name": "a"},
   "transform": [{"filter": "indexof(['H=50_w1=35_r=6.5_h0=13_x=3.5','H=50_w1=40_r=5_h0=10_x=2','H=50_w1=40_r=6_h0=12_x=4','H=50_w1=45_r=6.5_h0=13_a=45','H=50_w1=45_r=6_h0=12_x=2'], datum.s) >= 0"}],
   "mark": {"type": "point", "shape": "triangle-up", "filled": true, "size": 26, "opacity": 1},
   "encoding": {"x": {"field": "x", "type": "quantitative"}, "y": {"field": "y", "type": "quantitative"}, "color": {"field": "s", "type": "nominal", "legend": null}}
  },
  {
   "data": {"name": "a"},
   "transform": [{"filter": "indexof(['H=50_w1=35_r=6_h0=12_x=0','H=50_w1=40_r=5_h0=10_x=3','H=50_W1=40_r=7_h0=14_x=0','H=50_w1=45_r=6.5_h0=13_x=3','H=50_w1=45_r=6_h0=12_x=3'], datum.s) >= 0"}],
   "mark": {"type": "point", "shape": "M-1,-1L1,1M-1,1L1,-1", "filled": false, "size": 22, "strokeWidth": 1, "opacity": 1},
   "encoding": {"x": {"field": "x", "type": "quantitative"}, "y": {"field": "y", "type": "quantitative"}, "color": {"field": "s", "type": "nominal", "legend": null}}
  },
  {
   "data": {"name": "a"},
   "transform": [{"filter": "indexof(['H=50_w1=35_r=6_h0=12_x=2','H=50_w1=40_r=6.5_h0=13_x=0','H=50_W1=40_r=7_h0=14_x=2','H=50_w1=45_r=6.5_h0=13_x=3.5','H=50_w1=45_r=6_h0=12_x=4'], datum.s) >= 0"}],
   "mark": {"type": "point", "shape": "M-1,-1L1,1M-1,1L1,-1M0,-1.3L0,1.3", "filled": false, "size": 22, "strokeWidth": 1, "opacity": 1},
   "encoding": {"x": {"field": "x", "type": "quantitative"}, "y": {"field": "y", "type": "quantitative"}, "color": {"field": "s", "type": "nominal", "legend": null}}
  },
  {
   "data": {"name": "a"},
   "transform": [{"filter": "indexof(['H=50_w1=35_r=6_h0=12_x=3','H=50_w1=40_r=6.5_h0=13_x=3','H=50_w1=40_r=7_h0=14_x=4','H=50_w1=45_r=6.5_h0=13_x=4','H=50_w1=45_r=7_h0=14_x=0'], datum.s) >= 0"}],
   "mark": {"type": "point", "shape": "circle", "filled": true, "size": 26, "opacity": 1},
   "encoding": {"x": {"field": "x", "type": "quantitative"}, "y": {"field": "y", "type": "quantitative"}, "color": {"field": "s", "type": "nominal", "legend": null}}
  },
  {
   "data": {"name": "a"},
   "transform": [{"filter": "indexof(['H=50_w1=35_r=6_h0=12_x=4','H=50_w1=40_r=6.5_h0=13_x=3.5','H=50_w1=45_h0=13_ellipse_1','H=50_w1=45_h0=13_ellipse_2','H=50_w1=45_r=7_h0=14_x=2'], datum.s) >= 0"}],
   "mark": {"type": "point", "shape": "M-1.2,0L1.2,0M0,-1.2L0,1.2", "filled": false, "size": 22, "strokeWidth": 1, "opacity": 1},
   "encoding": {"x": {"field": "x", "type": "quantitative"}, "y": {"field": "y", "type": "quantitative"}, "color": {"field": "s", "type": "nominal", "legend": null}}
  },
  {
   "data": {"values": [{"x": -0.0361, "y": 0.4369, "x2": -0.0514, "y2": 0.3202}]},
   "mark": {"type": "rule", "strokeWidth": 2, "color": "#000"},
   "encoding": {"x": {"field": "x", "type": "quantitative"}, "y": {"field": "y", "type": "quantitative"}, "x2": {"field": "x2"}, "y2": {"field": "y2"}}
  },
  {
   "data": {"values": [{"x": -0.0514, "y": 0.3202}]},
   "mark": {"type": "point", "shape": "M0,1L-0.5,-1L0.5,-1Z", "size": 110, "angle": 19, "filled": true, "color": "#000", "opacity": 1},
   "encoding": {"x": {"field": "x", "type": "quantitative"}, "y": {"field": "y", "type": "quantitative"}}
  },
  {
   "data": {"values": [{"x": -0.0849, "y": 0.4706, "t": "Strain path of optimized  inplane"}, {"x": -0.0849, "y": 0.4537, "t": "test specimen close to plane strain"}]},
   "mark": {"type": "text", "align": "left", "baseline": "middle", "fontSize": 17, "color": "#000"},
   "encoding": {"x": {"field": "x", "type": "quantitative"}, "y": {"field": "y", "type": "quantitative"}, "text": {"field": "t"}}
  },
  {
   "data": {"values": [{"x": -0.0094, "y": 0.5792, "t": "(a)"}]},
   "mark": {"type": "text", "align": "center", "baseline": "middle", "fontSize": 24, "color": "#000"},
   "encoding": {"x": {"field": "x", "type": "quantitative"}, "y": {"field": "y", "type": "quantitative"}, "text": {"field": "t"}}
  }
 ]
},
{
 "spacing": 0,
 "resolve": {"scale": {"x": "independent", "y": "independent", "color": "independent"}, "legend": {"color": "independent"}},
 "hconcat": [
  {
   "width": 141, "height": 470,
   "view": {"stroke": null},
   "data": {"values": [{"t": ""}]},
   "mark": {"type": "text", "opacity": 0},
   "encoding": {"text": {"field": "t"}}
  },
  {
   "width": 661, "height": 470,
   "layer": [
    {
     "data": {"name": "b"},
     "transform": [{"filter": "indexof(['H=50_w1=40_r=6.5_h0=13_x=3','H=50_w1=45_r=6.5_h0=13_x=4'], datum.s) >= 0"}],
     "mark": {"type": "line", "strokeWidth": 4.5},
     "encoding": {
      "x": {"field": "x", "type": "quantitative", "scale": {"domain": [-0.5, 0], "nice": false, "zero": false}, "axis": {"values": [-0.5,-0.4,-0.3,-0.2,-0.1,0], "labelExpr": "datum.value + ''", "title": "True minor strain", "labelPadding": 15, "titlePadding": 17}},
      "y": {"field": "y", "type": "quantitative", "scale": {"domain": [0, 0.8], "nice": false}, "axis": {"orient": "right", "values": [0,0.1,0.2,0.3,0.4,0.5,0.6,0.7,0.8], "labelExpr": "datum.value + ''", "title": "True major strain", "titleAngle": 270, "titleBaseline": "top", "labelPadding": 14, "titlePadding": 20}},
      "color": {"field": "s", "type": "nominal",
       "scale": {"domain": ["H=50_w1=35_r=6.5_h0=13_x=3.5","H=50_w1=35_r=6_h0=12_x=3","H=50_w1=40_r=6.5_h0=13_x=3.5","H=50_w1=40_r=6.5_h0=13_x=3","H=50_w1=40_r=6_h0=12_x=2","H=50_w1=45_h0=13_ellipse 1","H=50_w1=45_r=6.5_h0=13_x=3.5","H=50_w1=45_r=6.5_h0=13_x=4","H=50_w1=45_h0=13_ellipse_2","H=50_w1=45_r=6_h0=12_x=3","H=50_w1=45_r=7_h0=14_x=3"],
        "range": ["#4F81BD","#000000","#9BBB59","#7D5FA0","#000000","#E6AE7E","#4F81BD","#D99694","#000000","#000000","#000000"]},
       "legend": {"title": null, "orient": "none", "legendX": 12, "legendY": 237, "labelFontSize": 20, "labelLimit": 500, "labelOffset": 17, "rowPadding": 0, "symbolSize": 256, "symbolStrokeWidth": 1.6, "symbolType": "M-1,0M-0.5,0L3,0", "padding": 2, "strokeColor": "#000", "fillColor": "#fff",
        "encode": {"symbols": {"update": {"shape": {"signal": "'M-1,0' + (datum.index == 3 || datum.index == 7 ? 'M-0.5,-0.12L3,-0.12L3,0.12L-0.5,0.12Z' : 'M-0.5,0L3,0') + ['M1.125,-0.45L1.575,0L1.125,0.45L0.675,0Z','M0.75,-0.38L1.5,-0.38L1.5,0.38L0.75,0.38Z','M1.125,-0.45L1.575,0.38L0.675,0.38Z','M0.625,-0.5L1.625,0.5M0.625,0.5L1.625,-0.5','M0.825,-0.3L1.425,0.3M0.825,0.3L1.425,-0.3M1.125,-0.38L1.125,0.38','M0.675,0A0.45,0.45 0 1,0 1.575,0A0.45,0.45 0 1,0 0.675,0','M0.675,0L1.575,0M1.125,-0.45L1.125,0.45','','M0.525,-0.6L1.725,0.6M0.525,0.6L1.725,-0.6','M1.125,-0.4L1.525,0L1.125,0.4L0.725,0Z','M0.8,-0.33L1.45,-0.33L1.45,0.33L0.8,0.33Z'][datum.index]"}, "fill": {"value": "white"}}}}}
      }
     }
    },
    {
     "data": {"name": "b"},
     "transform": [{"filter": "indexof(['H=50_w1=40_r=6.5_h0=13_x=3','H=50_w1=45_r=6.5_h0=13_x=4','H=50_w1=45_h0=13_ellipse_2','H=50_w1=45_r=6_h0=12_x=3','H=50_w1=45_r=7_h0=14_x=3'], datum.s) < 0"}],
     "mark": {"type": "line", "strokeWidth": 1.3},
     "encoding": {"x": {"field": "x", "type": "quantitative"}, "y": {"field": "y", "type": "quantitative"}, "color": {"field": "s", "type": "nominal", "legend": null}}
    },
    {
     "data": {"name": "b"},
     "transform": [{"filter": "indexof(['H=50_w1=45_h0=13_ellipse_2','H=50_w1=45_r=6_h0=12_x=3','H=50_w1=45_r=7_h0=14_x=3'], datum.s) >= 0"}],
     "mark": {"type": "line", "strokeWidth": 2.2},
     "encoding": {"x": {"field": "x", "type": "quantitative"}, "y": {"field": "y", "type": "quantitative"}, "color": {"field": "s", "type": "nominal", "legend": null}}
    },
    {
     "data": {"name": "b"},
     "transform": [{"filter": "datum.s == 'H=50_w1=35_r=6.5_h0=13_x=3.5'"}],
     "mark": {"type": "point", "shape": "diamond", "fill": "white", "stroke": "#4F81BD", "filled": true, "size": 30, "strokeWidth": 1, "opacity": 1},
     "encoding": {"x": {"field": "x", "type": "quantitative"}, "y": {"field": "y", "type": "quantitative"}}
    },
    {
     "data": {"name": "b"},
     "transform": [{"filter": "datum.s == 'H=50_w1=35_r=6_h0=12_x=3'"}],
     "mark": {"type": "point", "shape": "square", "fill": "white", "stroke": "#C0504D", "filled": true, "size": 26, "strokeWidth": 1, "opacity": 1},
     "encoding": {"x": {"field": "x", "type": "quantitative"}, "y": {"field": "y", "type": "quantitative"}}
    },
    {
     "data": {"name": "b"},
     "transform": [{"filter": "datum.s == 'H=50_w1=40_r=6.5_h0=13_x=3.5'"}],
     "mark": {"type": "point", "shape": "triangle-up", "fill": "white", "stroke": "#9BBB59", "filled": true, "size": 35, "strokeWidth": 1, "opacity": 1},
     "encoding": {"x": {"field": "x", "type": "quantitative"}, "y": {"field": "y", "type": "quantitative"}}
    },
    {
     "data": {"name": "b"},
     "transform": [{"filter": "datum.s == 'H=50_w1=40_r=6.5_h0=13_x=3'"}],
     "mark": {"type": "point", "shape": "M-1,-1L1,1M-1,1L1,-1", "filled": false, "stroke": "#8064A2", "size": 60, "strokeWidth": 1.5, "opacity": 1},
     "encoding": {"x": {"field": "x", "type": "quantitative"}, "y": {"field": "y", "type": "quantitative"}}
    },
    {
     "data": {"name": "b"},
     "transform": [{"filter": "datum.s == 'H=50_w1=40_r=6_h0=12_x=2'"}],
     "mark": {"type": "point", "shape": "M-1,-1L1,1M-1,1L1,-1M0,-1.3L0,1.3", "filled": false, "stroke": "#000", "size": 36, "strokeWidth": 1, "opacity": 1},
     "encoding": {"x": {"field": "x", "type": "quantitative"}, "y": {"field": "y", "type": "quantitative"}}
    },
    {
     "data": {"name": "b"},
     "transform": [{"filter": "datum.s == 'H=50_w1=45_h0=13_ellipse 1'"}],
     "mark": {"type": "point", "shape": "circle", "fill": "white", "stroke": "#000", "filled": true, "size": 45, "strokeWidth": 1, "opacity": 1},
     "encoding": {"x": {"field": "x", "type": "quantitative"}, "y": {"field": "y", "type": "quantitative"}}
    },
    {
     "data": {"name": "b"},
     "transform": [{"filter": "datum.s == 'H=50_w1=45_r=6.5_h0=13_x=3.5'"}],
     "mark": {"type": "point", "shape": "M-1.2,0L1.2,0M0,-1.2L0,1.2", "filled": false, "stroke": "#000", "size": 40, "strokeWidth": 1, "opacity": 1},
     "encoding": {"x": {"field": "x", "type": "quantitative"}, "y": {"field": "y", "type": "quantitative"}}
    },
    {
     "data": {"name": "b"},
     "transform": [{"filter": "datum.s == 'H=50_w1=45_h0=13_ellipse_2'"}],
     "mark": {"type": "point", "shape": "M-1,-1L1,1M-1,1L1,-1", "filled": false, "stroke": "#000", "size": 130, "strokeWidth": 1.5, "opacity": 1},
     "encoding": {"x": {"field": "x", "type": "quantitative"}, "y": {"field": "y", "type": "quantitative"}}
    },
    {
     "data": {"name": "b"},
     "transform": [{"filter": "datum.s == 'H=50_w1=45_r=6_h0=12_x=3'"}],
     "mark": {"type": "point", "shape": "diamond", "fill": "white", "stroke": "#000", "filled": true, "size": 45, "strokeWidth": 1, "opacity": 1},
     "encoding": {"x": {"field": "x", "type": "quantitative"}, "y": {"field": "y", "type": "quantitative"}}
    },
    {
     "data": {"name": "b"},
     "transform": [{"filter": "datum.s == 'H=50_w1=45_r=7_h0=14_x=3'"}],
     "mark": {"type": "point", "shape": "square", "fill": "white", "stroke": "#000", "filled": true, "size": 45, "strokeWidth": 1, "opacity": 1},
     "encoding": {"x": {"field": "x", "type": "quantitative"}, "y": {"field": "y", "type": "quantitative"}}
    },
    {
     "data": {"values": [{"x": -0.1006, "y": 0.5906, "x2": -0.0915, "y2": 0.3772}]},
     "mark": {"type": "rule", "strokeWidth": 1.5, "color": "#000"},
     "encoding": {"x": {"field": "x", "type": "quantitative"}, "y": {"field": "y", "type": "quantitative"}, "x2": {"field": "x2"}, "y2": {"field": "y2"}}
    },
    {
     "data": {"values": [{"x": -0.0915, "y": 0.3772}]},
     "mark": {"type": "point", "shape": "M0,1L-0.4,-1L0.4,-1Z", "size": 256, "angle": -7.5, "filled": true, "color": "#000", "opacity": 1},
     "encoding": {"x": {"field": "x", "type": "quantitative"}, "y": {"field": "y", "type": "quantitative"}}
    },
    {
     "data": {"values": [{"x": -0.1271, "y": 0.6962, "t": "Strain path of optimized"}, {"x": -0.1271, "y": 0.6553, "t": "inplane test specimen close"}, {"x": -0.1271, "y": 0.6145, "t": "to plane strain"}]},
     "mark": {"type": "text", "align": "center", "baseline": "middle", "fontSize": 19.5, "color": "#000"},
     "encoding": {"x": {"field": "x", "type": "quantitative"}, "y": {"field": "y", "type": "quantitative"}, "text": {"field": "t"}}
    },
    {
     "data": {"values": [{"x": -0.0204, "y": 0.7557, "t": "(b)"}]},
     "mark": {"type": "text", "align": "center", "baseline": "middle", "fontSize": 24, "color": "#000"},
     "encoding": {"x": {"field": "x", "type": "quantitative"}, "y": {"field": "y", "type": "quantitative"}, "text": {"field": "t"}}
    }
   ]
  }
 ]
}
]
}
